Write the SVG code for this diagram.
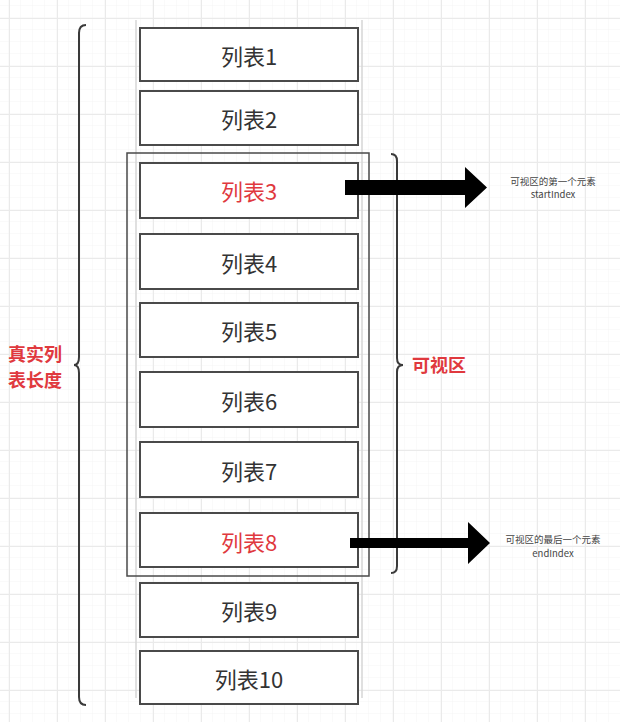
<svg xmlns="http://www.w3.org/2000/svg" width="620" height="722" viewBox="0 0 620 722">
<style>
.item rect{fill:#fff;stroke:#4a4a4a;stroke-width:2}
.item text{font-family:"Noto Sans CJK SC","Liberation Sans",sans-serif;font-size:22px;fill:#333;text-anchor:middle;dominant-baseline:central}
.item.red text{fill:#e0393e}
.brace{fill:none;stroke:#3a3a3a;stroke-width:2}
.lbl{font-family:"Noto Sans CJK SC","Liberation Sans",sans-serif;font-size:18px;font-weight:bold;fill:#e0393e}
.note{font-family:"Noto Sans CJK SC","Liberation Sans",sans-serif;font-size:9.5px;fill:#444;text-anchor:middle}
</style>
<defs>
<pattern id="minor" width="12" height="12" patternUnits="userSpaceOnUse">
<path d="M12 0V12M0 12H12" fill="none" stroke="#f4f4f4" stroke-width="1"/>
</pattern>
<pattern id="major" width="48" height="48" patternUnits="userSpaceOnUse" x="9" y="18">
<rect width="48" height="48" fill="url(#minor)"/>
<path d="M0 0.5H48M0.5 0V48" fill="none" stroke="#eaeaea" stroke-width="1"/>
</pattern>
</defs>
<rect width="620" height="722" fill="#fff"/>
<rect width="620" height="722" fill="url(#major)"/>
<g id="column">
<line x1="136" y1="20" x2="136" y2="698" stroke="#d6d6d6" stroke-width="1.5"/>
<line x1="362" y1="20" x2="362" y2="698" stroke="#d6d6d6" stroke-width="1.5"/>
</g>
<g id="viewport"><rect x="127" y="153" width="242" height="423" fill="none" stroke="#4a4a4a" stroke-width="1.5"/></g>
<g id="item1" class="item"><rect x="140" y="28" width="218" height="53"/><text x="249" y="55">列表1</text></g>
<g id="item2" class="item"><rect x="140" y="91" width="218" height="54"/><text x="249" y="118">列表2</text></g>
<g id="item3" class="item red"><rect x="140" y="163" width="218" height="55"/><text x="249" y="190">列表3</text></g>
<g id="item4" class="item"><rect x="140" y="234" width="218" height="55"/><text x="249" y="262">列表4</text></g>
<g id="item5" class="item"><rect x="140" y="303" width="218" height="54"/><text x="249" y="330">列表5</text></g>
<g id="item6" class="item"><rect x="140" y="372" width="218" height="55"/><text x="249" y="400">列表6</text></g>
<g id="item7" class="item"><rect x="140" y="442" width="218" height="55"/><text x="249" y="470">列表7</text></g>
<g id="item8" class="item red"><rect x="140" y="513" width="218" height="54"/><text x="249" y="541">列表8</text></g>
<g id="item9" class="item"><rect x="140" y="583" width="218" height="54"/><text x="249" y="610">列表9</text></g>
<g id="item10" class="item"><rect x="140" y="651" width="218" height="53"/><text x="249" y="678">列表10</text></g>
<g id="realBrace">
<path class="brace" d="M86 25Q79 25 79 33V357Q79 365 74 365Q79 365 79 373V697Q79 705 86 705"/>
<text class="lbl" x="8" y="361">真实列</text>
<text class="lbl" x="8" y="387">表长度</text>
</g>
<g id="viewBrace">
<path class="brace" d="M391 154Q397 154 397 161V358Q397 365 403 365Q397 365 397 372V566Q397 573 391 573"/>
<text class="lbl" x="412" y="372">可视区</text>
</g>
<g id="connectors">
<polygon points="345,180 465,180 465,167 487,187.5 465,208 465,195 345,195" fill="#000"/>
<polygon points="350,538 468,538 468,522 490,543 468,564 468,548 350,548" fill="#000"/>
</g>
<g id="startNote">
<text class="note" x="553" y="185">可视区的第一个元素</text>
<text class="note" x="553" y="198">startIndex</text>
</g>
<g id="endNote">
<text class="note" x="553" y="543">可视区的最后一个元素</text>
<text class="note" x="553" y="557">endIndex</text>
</g>
</svg>
